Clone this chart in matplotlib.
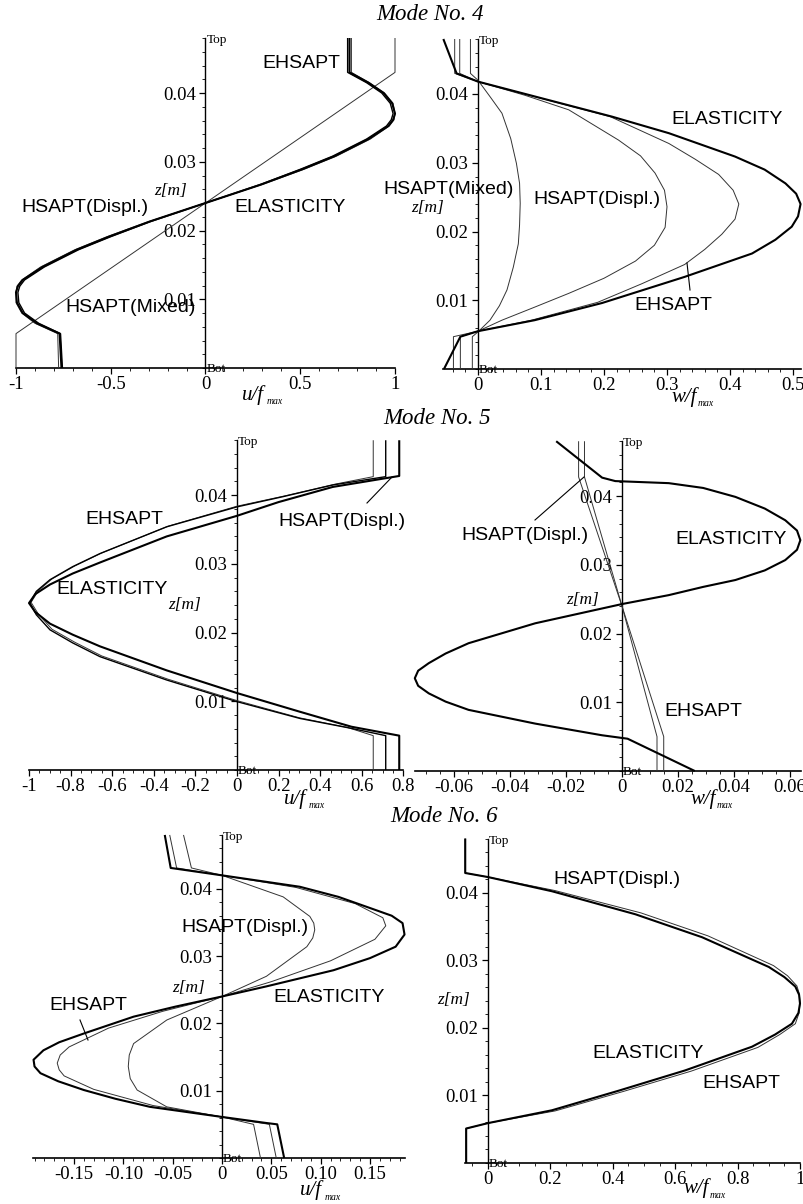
import matplotlib
matplotlib.use("Agg")
import matplotlib.pyplot as plt
from matplotlib.ticker import FixedLocator, FixedFormatter, MultipleLocator
from matplotlib.lines import Line2D

plt.rcParams['font.family'] = ['Liberation Serif', 'DejaVu Serif']
plt.rcParams['axes.unicode_minus'] = False

# ------------------------------------------------------------------ data
# Mode 4 : in-plane displacement u/fmax
z4_u = [0.0, 0.005, 0.0065, 0.008, 0.0095, 0.011, 0.0119, 0.0128, 0.0147, 0.0172, 0.0191, 0.0213,
        0.024, 0.0267, 0.0289, 0.0308, 0.0333, 0.0352, 0.0361, 0.037, 0.0385, 0.040, 0.0415, 0.043, 0.048]
u4_elast = [-0.76, -0.77, -0.89, -0.965, -0.995, -1.0, -0.99, -0.965, -0.86, -0.68, -0.51, -0.295,
            0.0, 0.295, 0.51, 0.68, 0.86, 0.965, 0.99, 1.0, 0.985, 0.94, 0.86, 0.76, 0.76]
u4_ehsapt = [-0.755, -0.765, -0.88, -0.955, -0.985, -0.99, -0.98, -0.955, -0.85, -0.67, -0.50, -0.29,
             0.0, 0.29, 0.50, 0.67, 0.85, 0.955, 0.98, 0.99, 0.975, 0.93, 0.85, 0.75, 0.75]
u4_displ = [-0.775, -0.78, -0.90, -0.97, -1.0, -1.0, -0.995, -0.97, -0.87, -0.69, -0.52, -0.30,
            0.0, 0.30, 0.52, 0.69, 0.87, 0.97, 0.995, 1.0, 0.99, 0.945, 0.865, 0.77, 0.77]
z4_u_mixed = [0.0, 0.005, 0.024, 0.043, 0.048]
u4_mixed = [-1.0, -1.0, 0.0, 1.0, 1.0]

# Mode 4 : transverse displacement w/fmax
z4_w_elast = [0.048, 0.043, 0.0418, 0.0367, 0.0343, 0.0309, 0.029, 0.027, 0.0255, 0.024, 0.0222,
              0.0207, 0.0188, 0.0168, 0.0134, 0.0096, 0.0071, 0.0055, 0.0047, 0.0]
w4_elast = [-0.055, -0.034, 0.0, 0.213, 0.303, 0.408, 0.455, 0.488, 0.505, 0.512, 0.508,
            0.498, 0.472, 0.435, 0.328, 0.197, 0.09, 0.0, -0.028, -0.054]
z4_w_ehsapt = [0.048, 0.043, 0.0418, 0.0367, 0.0328, 0.0305, 0.0283, 0.026, 0.024, 0.0218,
               0.0196, 0.0174, 0.0152, 0.0124, 0.0097, 0.0071, 0.0055, 0.0047, 0.0]
w4_ehsapt = [-0.037, -0.037, 0.0, 0.21, 0.303, 0.345, 0.382, 0.405, 0.414, 0.408,
             0.387, 0.36, 0.328, 0.26, 0.19, 0.085, 0.0, -0.039, -0.039]
z4_w_displ = [0.048, 0.043, 0.0418, 0.0398, 0.0377, 0.0333, 0.031, 0.0285, 0.026, 0.0236,
              0.0206, 0.018, 0.0157, 0.0132, 0.011, 0.009, 0.0071, 0.0055, 0.0047, 0.0]
w4_displ = [-0.029, -0.029, 0.0, 0.075, 0.144, 0.223, 0.258, 0.281, 0.296, 0.30,
            0.297, 0.28, 0.25, 0.2, 0.144, 0.09, 0.038, 0.0, -0.028, -0.028]
z4_w_mixed = [0.048, 0.043, 0.042, 0.0395, 0.0372, 0.0335, 0.0299, 0.027, 0.0241, 0.021,
              0.0182, 0.0148, 0.0115, 0.0092, 0.0071, 0.0054, 0.0047, 0.0]
w4_mixed = [-0.012, -0.012, 0.0, 0.02, 0.038, 0.052, 0.061, 0.066, 0.067, 0.066,
            0.064, 0.056, 0.046, 0.034, 0.019, 0.0, -0.009, -0.009]

# Mode 5 : u/fmax
z5_u_elast = [0.048, 0.0428, 0.0412, 0.039, 0.037, 0.034, 0.0302, 0.0286, 0.027, 0.0256, 0.0243,
              0.023, 0.0213, 0.0197, 0.018, 0.0145, 0.0112, 0.0085, 0.0063, 0.005, 0.0]
u5_elast = [0.78, 0.78, 0.46, 0.2, 0.0, -0.338, -0.659, -0.79, -0.899, -0.97, -1.0,
            -0.97, -0.899, -0.79, -0.659, -0.338, 0.0, 0.3, 0.55, 0.78, 0.78]
z5_u_ehsapt = [0.048, 0.0427, 0.0415, 0.0398, 0.0383, 0.0354, 0.0315, 0.0296, 0.0277, 0.026, 0.0243,
               0.0226, 0.0204, 0.0185, 0.0165, 0.0131, 0.00995, 0.0075, 0.0061, 0.005, 0.0]
u5_ehsapt = [0.715, 0.715, 0.463, 0.223, 0.0, -0.338, -0.659, -0.79, -0.899, -0.965, -0.995,
             -0.965, -0.899, -0.79, -0.659, -0.338, 0.0, 0.303, 0.543, 0.715, 0.715]
z5_u_displ = [0.048, 0.0427, 0.0416, 0.0399, 0.0384, 0.0355, 0.0316, 0.0297, 0.0278, 0.0261, 0.0244,
              0.0227, 0.0205, 0.0186, 0.0166, 0.0132, 0.0101, 0.0076, 0.0062, 0.005, 0.0]
u5_displ = [0.655, 0.655, 0.47, 0.23, 0.0, -0.33, -0.65, -0.78, -0.89, -0.955, -0.99,
            -0.955, -0.89, -0.78, -0.65, -0.33, 0.0, 0.3, 0.53, 0.655, 0.655]

# Mode 5 : w/fmax
z5_w_elast = [0.048, 0.0427, 0.0422, 0.0419, 0.0412, 0.0399, 0.0382, 0.0365, 0.035, 0.0336,
              0.0322, 0.0307, 0.0292, 0.0278, 0.0268, 0.0256, 0.0243, 0.0215, 0.0186, 0.0171,
              0.0157, 0.0146, 0.0135, 0.0124, 0.0113, 0.0101, 0.0089, 0.0069, 0.0052, 0.0047, 0.0]
w5_elast = [-0.0235, -0.0071, -0.0024, 0.0167, 0.029, 0.0405, 0.051, 0.0583, 0.0625, 0.0637,
            0.0625, 0.0583, 0.051, 0.0405, 0.029, 0.0167, 0.0, -0.031, -0.0548, -0.063,
            -0.069, -0.0728, -0.074, -0.0728, -0.069, -0.063, -0.0548, -0.031, -0.0071, 0.002, 0.026]
z5_w_ehsapt = [0.048, 0.0428, 0.024, 0.005, 0.0]
w5_ehsapt = [-0.0134, -0.0134, 0.0, 0.0149, 0.0149]
z5_w_displ = [0.048, 0.0428, 0.024, 0.005, 0.0]
w5_displ = [-0.0155, -0.0155, 0.0, 0.0125, 0.0125]

# Mode 6 : u/fmax
z6_u_elast = [0.048, 0.0431, 0.042, 0.0403, 0.0388, 0.0373, 0.036, 0.0349, 0.0332, 0.0314,
              0.0297, 0.0279, 0.0255, 0.024, 0.0225, 0.021, 0.0185, 0.0172, 0.016, 0.0146,
              0.0136, 0.0126, 0.0114, 0.0101, 0.0088, 0.0076, 0.0061, 0.0052, 0.005, 0.0]
u6_elast = [-0.058, -0.052, 0.0, 0.079, 0.118, 0.147, 0.172, 0.183, 0.185, 0.176,
            0.15, 0.113, 0.045, 0.0, -0.047, -0.0896, -0.14, -0.165, -0.181, -0.191,
            -0.19, -0.184, -0.166, -0.14, -0.108, -0.073, 0.0, 0.045, 0.056, 0.063]
z6_u_ehsapt = [0.048, 0.0431, 0.042, 0.0402, 0.0378, 0.0357, 0.0345, 0.0325, 0.0293, 0.0262,
               0.024, 0.0218, 0.0193, 0.0165, 0.0153, 0.0141, 0.0131, 0.0122, 0.0102, 0.0078,
               0.0061, 0.005, 0.0]
u6_ehsapt = [-0.053, -0.046, 0.0, 0.075, 0.135, 0.163, 0.166, 0.155, 0.11, 0.05,
             0.0, -0.06, -0.115, -0.155, -0.164, -0.167, -0.165, -0.16, -0.13, -0.07,
             0.0, 0.048, 0.055]
z6_u_displ = [0.048, 0.0431, 0.042, 0.0388, 0.0359, 0.0349, 0.0339, 0.0327, 0.0314, 0.027,
              0.024, 0.0205, 0.017, 0.0153, 0.0136, 0.0118, 0.0101, 0.0076, 0.0061, 0.005, 0.0]
u6_displ = [-0.039, -0.031, 0.0, 0.062, 0.089, 0.093, 0.094, 0.092, 0.086, 0.045,
            0.0, -0.056, -0.0896, -0.094, -0.095, -0.093, -0.086, -0.056, 0.0, 0.032, 0.039]

# Mode 6 : w/fmax
z6_w_elast = [0.048, 0.0429, 0.0423, 0.0402, 0.0368, 0.0334, 0.029, 0.0275, 0.0261, 0.0249,
              0.0236, 0.0222, 0.0206, 0.019, 0.0172, 0.0137, 0.0107, 0.0078, 0.0059, 0.0051, 0.0]
w6_elast = [-0.073, -0.073, 0.0, 0.205, 0.472, 0.686, 0.90, 0.95, 0.985, 0.997,
            1.0, 0.995, 0.974, 0.92, 0.846, 0.632, 0.419, 0.205, 0.0, -0.07, -0.07]
z6_w_ehsapt = [0.048, 0.0429, 0.0423, 0.0403, 0.037, 0.0336, 0.0292, 0.0277, 0.0262, 0.025,
               0.0237, 0.0222, 0.0206, 0.019, 0.0171, 0.0136, 0.0106, 0.0077, 0.0059, 0.0051, 0.0]
w6_ehsapt = [-0.073, -0.073, 0.0, 0.215, 0.49, 0.705, 0.915, 0.96, 0.99, 0.998,
             1.0, 0.997, 0.985, 0.935, 0.865, 0.652, 0.435, 0.215, 0.0, -0.07, -0.07]

# tick labels
z_ticks = [0.01, 0.02, 0.03, 0.04]
z_tick_labels = ['0.01', '0.02', '0.03', '0.04']
x_ticks = [
    [-1, -0.5, 0, 0.5, 1],
    [0, 0.1, 0.2, 0.3, 0.4, 0.5],
    [-1, -0.8, -0.6, -0.4, -0.2, 0, 0.2, 0.4, 0.6, 0.8],
    [-0.06, -0.04, -0.02, 0, 0.02, 0.04, 0.06],
    [-0.15, -0.10, -0.05, 0, 0.05, 0.10, 0.15],
    [0, 0.2, 0.4, 0.6, 0.8, 1],
]
x_tick_labels = [
    ['-1', '-0.5', '0', '0.5', '1'],
    ['0', '0.1', '0.2', '0.3', '0.4', '0.5'],
    ['-1', '-0.8', '-0.6', '-0.4', '-0.2', '0', '0.2', '0.4', '0.6', '0.8'],
    ['-0.06', '-0.04', '-0.02', '0', '0.02', '0.04', '0.06'],
    ['-0.15', '-0.10', '-0.05', '0', '0.05', '0.10', '0.15'],
    ['0', '0.2', '0.4', '0.6', '0.8', '1'],
]
x_minor = [0.1, 0.02, 0.05, 0.005, 0.01, 0.05]
mode_titles = ['Mode No. 4', 'Mode No. 5', 'Mode No. 6']
x_names = ['u/f', 'w/f', 'u/f', 'w/f', 'u/f', 'w/f']

# ------------------------------------------------------------------ layout
W, H = 804, 1204
fig = plt.figure(figsize=(W / 100, H / 100), dpi=100)
fig.patch.set_facecolor('white')

ZTOP = 0.048
# pixel calibration per panel: (x_a, px_a, x_b, px_b, py_z0, px_per_z, xlim)
layout = [
    (-1.0, 16, 1.0, 395, 368, 6875, (-1.0, 1.0)),
    (0.0, 478, 0.5, 793, 369, 6875, (-0.056, 0.512)),
    (-1.0, 29, 0.0, 237, 770, 6870, (-1.0, 0.8)),
    (-0.06, 454, 0.0, 622, 771, 6870, (-0.074, 0.064)),
    (0.0, 222, 0.15, 370, 1158, 6730, (-0.192, 0.185)),
    (0.0, 488, 1.0, 800, 1163, 6760, (-0.075, 1.0)),
]

axes = []
for k, (xa, pxa, xb, pxb, py0, ppz, xl) in enumerate(layout):
    s = (pxb - pxa) / (xb - xa)
    left_px = pxa + (xl[0] - xa) * s
    right_px = pxa + (xl[1] - xa) * s
    top_px = py0 - ZTOP * ppz
    ax = fig.add_axes([left_px / W, 1 - py0 / H, (right_px - left_px) / W, (py0 - top_px) / H])
    ax.set_xlim(*xl)
    ax.set_ylim(0, ZTOP)
    ax.patch.set_alpha(0)
    for sp in ('top', 'right'):
        ax.spines[sp].set_visible(False)
    ax.spines['left'].set_position(('data', 0))
    ax.spines['left'].set_linewidth(1.0)
    ax.spines['bottom'].set_linewidth(1.2)
    ax.xaxis.set_major_locator(FixedLocator(x_ticks[k]))
    ax.xaxis.set_major_formatter(FixedFormatter(x_tick_labels[k]))
    ax.xaxis.set_minor_locator(MultipleLocator(x_minor[k]))
    ax.yaxis.set_major_locator(FixedLocator(z_ticks))
    ax.yaxis.set_major_formatter(FixedFormatter(z_tick_labels))
    ax.yaxis.set_minor_locator(MultipleLocator(0.002))
    ax.tick_params(which='major', direction='out', length=4, width=0.9, labelsize=13.5, pad=2)
    ax.tick_params(which='minor', direction='out', length=2, width=0.6)
    ax.tick_params(axis='y', pad=3)
    axes.append(ax)


def plot(ax, x, z, lw, color='black', zorder=3):
    ax.plot(x, z, color=color, lw=lw, solid_joinstyle='round', solid_capstyle='butt',
            zorder=zorder, clip_on=False)


THICK, MED, THIN = 1.5, 1.0, 0.7
GREY = '#333333'

a = axes[0]
plot(a, u4_mixed, z4_u_mixed, THIN, GREY)
plot(a, u4_displ, z4_u, THIN, GREY)
plot(a, u4_ehsapt, z4_u, MED)
plot(a, u4_elast, z4_u, THICK)

a = axes[1]
plot(a, w4_mixed, z4_w_mixed, THIN, GREY)
plot(a, w4_displ, z4_w_displ, THIN, GREY)
plot(a, w4_ehsapt, z4_w_ehsapt, THIN, GREY)
plot(a, w4_elast, z4_w_elast, THICK)

a = axes[2]
plot(a, u5_displ, z5_u_displ, THIN, GREY)
plot(a, u5_ehsapt, z5_u_ehsapt, MED)
plot(a, u5_elast, z5_u_elast, THICK)

a = axes[3]
plot(a, w5_displ, z5_w_displ, THIN, GREY)
plot(a, w5_ehsapt, z5_w_ehsapt, THIN, GREY)
plot(a, w5_elast, z5_w_elast, THICK)

a = axes[4]
plot(a, u6_displ, z6_u_displ, THIN, GREY)
plot(a, u6_ehsapt, z6_u_ehsapt, THIN, GREY)
plot(a, u6_elast, z6_u_elast, THICK)

a = axes[5]
plot(a, w6_ehsapt, z6_w_ehsapt, THIN, GREY)
plot(a, w6_elast, z6_w_elast, THICK)


# ------------------------------------------------------------------ text
def ftext(px, py, s, size=14, family='Liberation Sans', style='normal', ha='center', va='center'):
    fig.text(px / W, 1 - py / H, s, fontsize=size, family=family, style=style, ha=ha, va=va)


def fline(p1, p2, lw=0.8):
    fig.add_artist(Line2D([p1[0] / W, p2[0] / W], [1 - p1[1] / H, 1 - p2[1] / H],
                          transform=fig.transFigure, color='black', lw=lw))


# titles
for s, (cx, cy) in zip(mode_titles, [(430, 15), (437, 418), (444, 816)]):
    ftext(cx, cy, s, size=16.5, family='Liberation Serif', style='italic')

# Top / Bot labels
for (xa, pxa, xb, pxb, py0, ppz, xl) in layout:
    s = (pxb - pxa) / (xb - xa)
    p0 = pxa + (0 - xa) * s
    ftext(p0 + 1, py0 - ZTOP * ppz + 2, 'Top', size=9.5, family='Liberation Serif', ha='left')
    ftext(p0 + 1, py0 + 1, 'Bot', size=9.5, family='Liberation Serif', ha='left')

# z[m] labels
for (cx, cy) in [(171, 191), (428, 208), (185, 605), (583, 600), (189, 988), (454, 1000)]:
    ftext(cx, cy, 'z[m]', size=12.5, family='Liberation Serif', style='italic')

# x-axis labels
for name, (cx, cy) in zip(x_names, [(253, 395), (684, 397), (295, 799), (703, 799),
                                      (311, 1190), (696, 1188)]):
    ftext(cx, cy, name, size=15, family='Liberation Serif', style='italic')
    ftext(cx + 14, cy + 7, 'max', size=7, family='Liberation Serif', style='italic', ha='left')

# curve annotations
labels = [
    ('EHSAPT', 301, 63), ('HSAPT(Displ.)', 85, 208), ('ELASTICITY', 290, 207),
    ('HSAPT(Mixed)', 131, 308),
    ('ELASTICITY', 727, 120), ('HSAPT(Displ.)', 597, 200), ('HSAPT(Mixed)', 449, 190),
    ('EHSAPT', 673, 306),
    ('EHSAPT', 124, 519), ('ELASTICITY', 112, 590), ('HSAPT(Displ.)', 342, 521),
    ('HSAPT(Displ.)', 525, 535), ('ELASTICITY', 731, 540), ('EHSAPT', 703, 711),
    ('HSAPT(Displ.)', 245, 928), ('ELASTICITY', 329, 997), ('EHSAPT', 88, 1006),
    ('HSAPT(Displ.)', 617, 880), ('ELASTICITY', 648, 1054), ('EHSAPT', 741, 1084),
]
for s, cx, cy in labels:
    ftext(cx, cy, s, size=14)

# pointer lines
fline((690, 290), (687, 263))
fline((367, 503), (392, 477))
fline((535, 520), (584, 477))
fline((80, 1020), (88, 1040))

fig.savefig('out.png', dpi=100, facecolor='white')
